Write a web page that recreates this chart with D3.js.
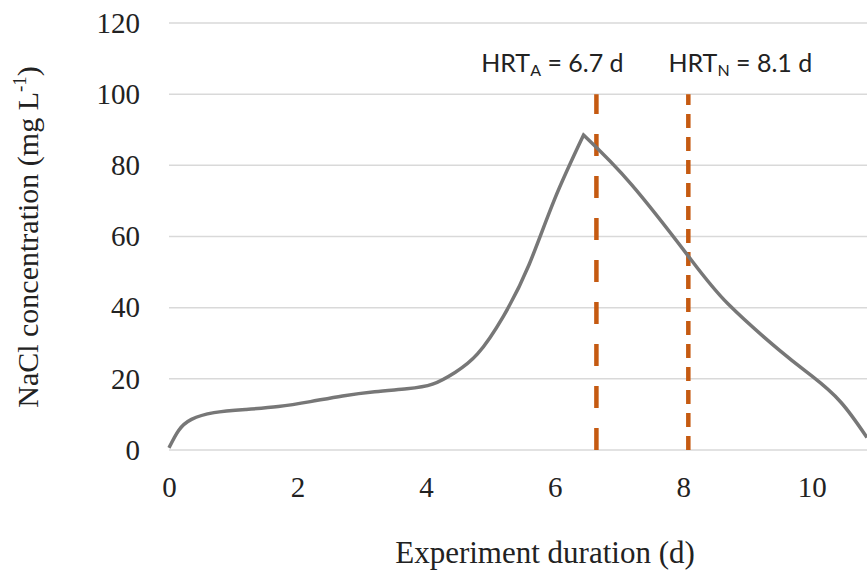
<!DOCTYPE html>
<html>
<head>
<meta charset="utf-8">
<script src="https://cdn.jsdelivr.net/npm/d3@7"></script>
<style>
  body { margin: 0; background: #fff; }
  svg { display: block; }
</style>
</head>
<body>
<div id="chart"></div>
<script>
// data
let days = [0, 0.15, 0.35, 0.7, 1.2, 1.7, 2.2, 2.7, 3.2, 3.7, 4.1, 4.45, 4.8, 5.2, 5.6, 6.0, 6.45,
            7.2, 8.1, 8.7, 9.5, 10.0, 10.45, 10.86];
let nacl = [0.6, 5.5, 8.6, 10.5, 11.4, 12.2, 13.6, 15.2, 16.4, 17.2, 18.5, 21.8, 27, 37.5, 52, 70.5, 88.5,
            74.5, 54, 41, 28, 20.8, 13.5, 3.5];
let peakIndex = 16;

let xTicks = [0, 2, 4, 6, 8, 10];
let yTicks = [0, 20, 40, 60, 80, 100, 120];

let hrtNames = ['A', 'N'];
let hrtDays = [6.65, 8.08];
let hrtLabels = ['6.7 d', '8.1 d'];

// svg dimensions
let svgWidth = 867,
    svgHeight = 576;

let svg = d3.select('#chart')
    .append('svg')
    .attr('width', svgWidth)
    .attr('height', svgHeight);

let xScale = d3.scaleLinear()
    .domain([0, 10.86])
    .range([169, 867]);

let yScale = d3.scaleLinear()
    .domain([0, 120])
    .range([450, 23]);

// gridlines
svg.append('g')
    .selectAll('line')
    .data(yTicks)
    .join('line')
    .attr('x1', xScale(0))
    .attr('x2', svgWidth)
    .attr('y1', d => yScale(d))
    .attr('y2', d => yScale(d))
    .attr('stroke', '#d9d9d9')
    .attr('stroke-width', 1.5);

// y axis labels
let leftAxis = d3.axisLeft(yScale).tickValues(yTicks).tickSize(0).tickPadding(0);
let yAxisG = svg.append('g')
    .attr('transform', `translate(140, 0)`)
    .call(leftAxis);
yAxisG.select('.domain').remove();
yAxisG.selectAll('text')
    .attr('font-family', '"Liberation Serif", "Times New Roman", serif')
    .attr('font-size', 29)
    .attr('fill', '#222');

// x axis labels
let bottomAxis = d3.axisBottom(xScale).tickValues(xTicks).tickSize(0).tickPadding(0);
let xAxisG = svg.append('g')
    .attr('transform', `translate(0, 476)`)
    .call(bottomAxis);
xAxisG.select('.domain').remove();
xAxisG.selectAll('text')
    .attr('font-family', '"Liberation Serif", "Times New Roman", serif')
    .attr('font-size', 29)
    .attr('fill', '#222');

// HRT dashed lines
let dashes = ['22,20', '14,9'];
svg.append('g')
    .selectAll('line')
    .data(hrtDays)
    .join('line')
    .attr('x1', d => xScale(d))
    .attr('x2', d => xScale(d))
    .attr('y1', yScale(0))
    .attr('y2', yScale(100))
    .attr('stroke', '#c55a11')
    .attr('stroke-width', 4.5)
    .attr('stroke-dasharray', (d, i) => dashes[i]);

// curve, sharp at the peak
let line = d3.line()
    .x(d => xScale(d[0]))
    .y(d => yScale(d[1]))
    .curve(d3.curveNatural);

let points = days.map((d, i) => [d, nacl[i]]);
let rising = points.slice(0, peakIndex + 1);
let falling = points.slice(peakIndex);

svg.append('path')
    .attr('d', line(rising) + line(falling).replace(/^M/, 'L'))
    .attr('fill', 'none')
    .attr('stroke', '#777777')
    .attr('stroke-width', 3.5)
    .attr('stroke-linejoin', 'miter');

// HRT labels
let labelOffsets = [-44, 52];
let labels = svg.append('g')
    .selectAll('text')
    .data(hrtDays)
    .join('text')
    .attr('x', (d, i) => xScale(d) + labelOffsets[i])
    .attr('y', 72)
    .attr('text-anchor', 'middle')
    .attr('font-family', 'Lato, "Open Sans", sans-serif')
    .attr('font-size', 25)
    .attr('fill', '#222');
labels.append('tspan').text('HRT');
labels.append('tspan')
    .attr('font-size', 16)
    .attr('dy', 4)
    .text((d, i) => hrtNames[i]);
labels.append('tspan')
    .attr('dy', -4)
    .text((d, i) => ' = ' + hrtLabels[i]);

// axis titles
svg.append('text')
    .attr('x', 545)
    .attr('y', 563)
    .attr('text-anchor', 'middle')
    .attr('font-family', '"Liberation Serif", "Times New Roman", serif')
    .attr('font-size', 31)
    .attr('fill', '#222')
    .text('Experiment duration (d)');

let yTitle = svg.append('text')
    .attr('transform', 'translate(38, 237) rotate(-90)')
    .attr('text-anchor', 'middle')
    .attr('font-family', '"Liberation Serif", "Times New Roman", serif')
    .attr('font-size', 30)
    .attr('fill', '#222');
yTitle.append('tspan').text('NaCl concentration (mg L');
yTitle.append('tspan')
    .attr('font-size', 19)
    .attr('dy', -12)
    .text('-1');
yTitle.append('tspan')
    .attr('dy', 12)
    .text(')');
</script>
</body>
</html>
